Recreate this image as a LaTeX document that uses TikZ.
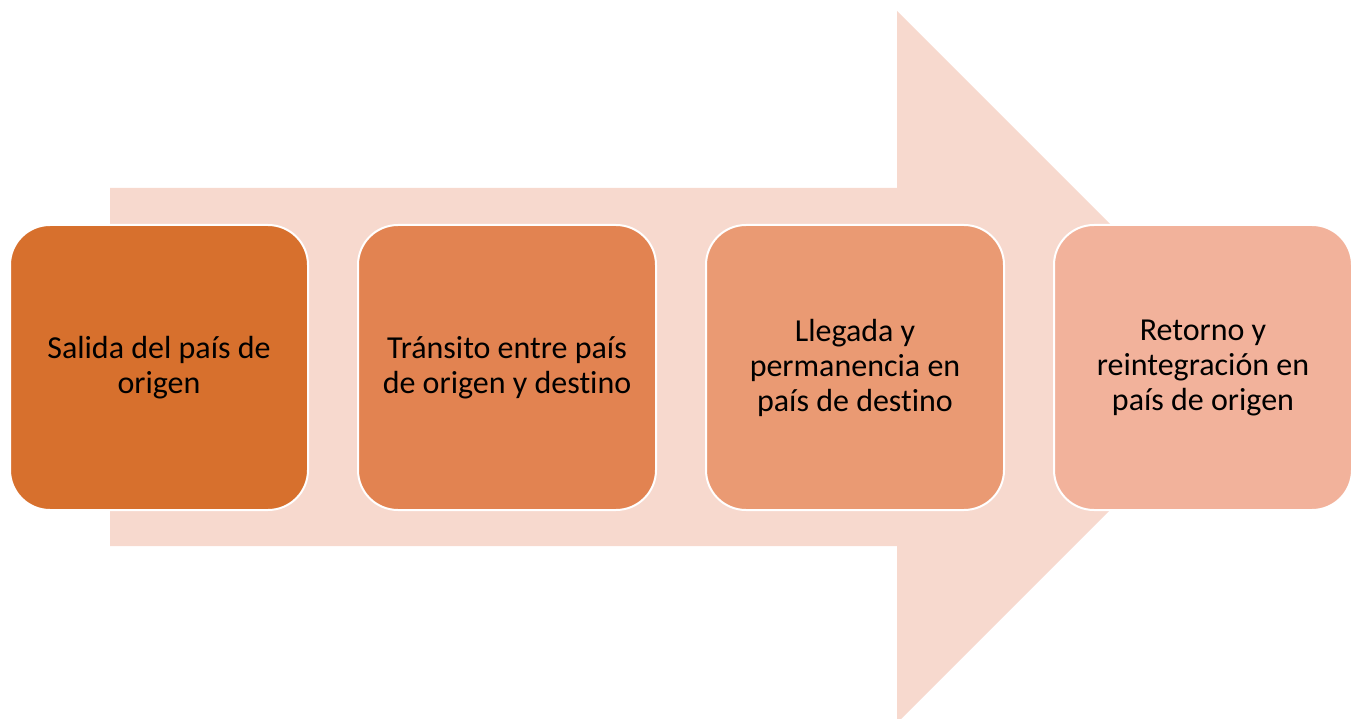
\documentclass[tikz,border=0pt]{standalone}
\usepackage{fontspec}
\setmainfont{Carlito}[Ligatures=NoCommon]
\usetikzlibrary{positioning}
\definecolor{arrowfill}{HTML}{F7D9CE}
\definecolor{stepone}{HTML}{D7702D}
\definecolor{steptwo}{HTML}{E28351}
\definecolor{stepthree}{HTML}{EA9A73}
\definecolor{stepfour}{HTML}{F2B29B}
\begin{document}
\begin{tikzpicture}[x=1pt, y=-1pt,
    stage/.style={draw=white, line width=2pt, rounded corners=40pt,
        minimum width=298pt, minimum height=285pt, outer sep=0pt,
        align=center, font=\fontsize{32}{35}\selectfont, text=black},
    node distance=50pt]
    \useasboundingbox (0,0) rectangle (1360,719);

    % Big background arrow
    \fill[arrowfill] (110,188) -- (897,188) -- (897,11) -- (1253,367)
        -- (897,723) -- (897,546) -- (110,546) -- cycle;

    % Stages of the process
    \node[stage, fill=stepone, anchor=north west] (salida) at (10,225)
        {Salida del país de\\origen};
    \node[stage, fill=steptwo, right=of salida] (transito)
        {Tránsito entre país\\de origen y destino};
    \node[stage, fill=stepthree, right=of transito] (llegada)
        {Llegada y\\permanencia en\\país de destino};
    \node[stage, fill=stepfour, right=of llegada] (retorno)
        {Retorno y\\reintegración en\\país de origen};
\end{tikzpicture}
\end{document}
